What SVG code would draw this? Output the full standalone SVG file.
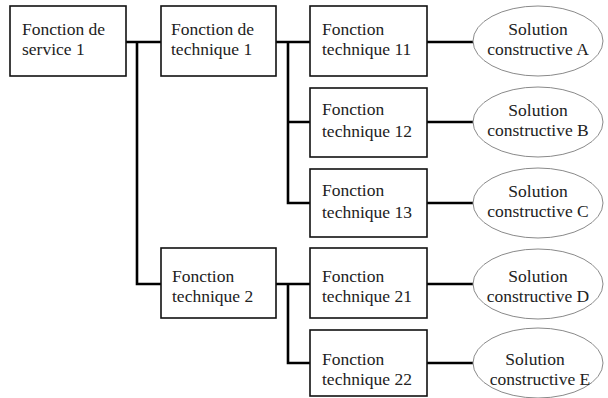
<svg xmlns="http://www.w3.org/2000/svg" width="608" height="398" viewBox="0 0 608 398">
<style>
.box{fill:#fff;stroke:#111;stroke-width:1.6}
.sol{fill:#fff;stroke:#8a8a8a;stroke-width:1}
.wire{fill:none;stroke:#000;stroke-width:2.6}
text{font-family:"Liberation Serif","Times New Roman",serif;font-size:17.5px;fill:#222}
.c{text-anchor:middle}
</style>
<rect width="608" height="398" fill="#fff"/>
<g id="connectors">
<path class="wire" d="M126 42H161M137 42V284H161"/>
<path class="wire" d="M276 42H310M288 42V203H310M288 122H310"/>
<path class="wire" d="M276 284H310M288 284V363H310"/>
<path class="wire" d="M427 42H473M427 122H473M427 203H473M427 284H473M427 363H473"/>
</g>
<g id="fs1"><rect class="box" x="10" y="6" width="116" height="70"/><text x="22" y="35">Fonction de</text><text x="22" y="55">service 1</text></g>
<g id="ft1"><rect class="box" x="161" y="6" width="115" height="70"/><text x="171" y="35">Fonction de</text><text x="171" y="55">technique 1</text></g>
<g id="ft2"><rect class="box" x="161" y="248" width="115" height="70"/><text x="172" y="282">Fonction</text><text x="172" y="302">technique 2</text></g>
<g id="ft11"><rect class="box" x="310" y="6" width="117" height="70"/><text x="322" y="35">Fonction</text><text x="322" y="55">technique 11</text></g>
<g id="ft12"><rect class="box" x="310" y="88" width="117" height="69"/><text x="322" y="115">Fonction</text><text x="322" y="137">technique 12</text></g>
<g id="ft13"><rect class="box" x="310" y="169" width="117" height="68"/><text x="322" y="196">Fonction</text><text x="322" y="218">technique 13</text></g>
<g id="ft21"><rect class="box" x="310" y="248" width="117" height="70"/><text x="322" y="282">Fonction</text><text x="322" y="302">technique 21</text></g>
<g id="ft22"><rect class="box" x="310" y="330" width="117" height="66"/><text x="322" y="365">Fonction</text><text x="322" y="385">technique 22</text></g>
<g id="solA"><ellipse class="sol" cx="538" cy="41" rx="65" ry="35"/><text class="c" x="538" y="35">Solution</text><text class="c" x="538" y="55">constructive A</text></g>
<g id="solB"><ellipse class="sol" cx="538" cy="122" rx="65" ry="35"/><text class="c" x="538" y="116">Solution</text><text class="c" x="538" y="136">constructive B</text></g>
<g id="solC"><ellipse class="sol" cx="538" cy="203" rx="65" ry="35"/><text class="c" x="538" y="197">Solution</text><text class="c" x="538" y="217">constructive C</text></g>
<g id="solD"><ellipse class="sol" cx="538" cy="284" rx="65" ry="35"/><text class="c" x="538" y="282">Solution</text><text class="c" x="538" y="302">constructive D</text></g>
<g id="solE"><ellipse class="sol" cx="538" cy="363" rx="65" ry="35"/><text class="c" x="535" y="365">Solution</text><text class="c" x="540" y="385">constructive E</text></g>
</svg>
